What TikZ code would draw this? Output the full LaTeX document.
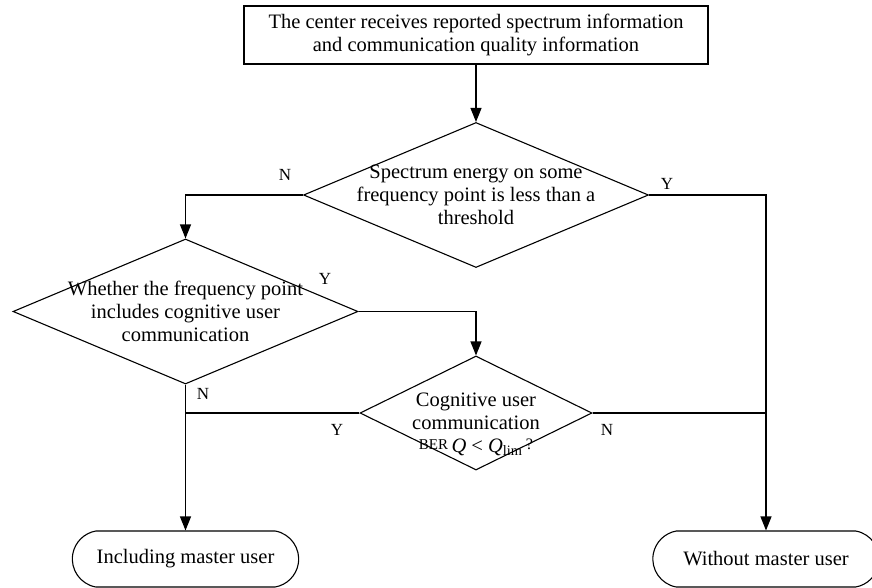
\documentclass[tikz,border=0pt]{standalone}
\usepackage{fontspec}
\setmainfont{Liberation Serif}
\usetikzlibrary{arrows.meta,shapes,positioning,calc}
\tikzset{
    block/.style={
        rectangle,
        draw=black,
        minimum width=464pt,
        minimum height=58pt,
        align=center,
        font=\fontsize{20.5}{23}\selectfont,
    },
    decision/.style={
        diamond,
        draw=black,
        inner sep=0pt,
    },
    dtext/.style={
        align=center,
        inner sep=0pt,
        font=\fontsize{20.5}{23}\selectfont,
    },
    term/.style={
        rounded rectangle,
        rounded rectangle arc length=160,
        draw=black,
        minimum width=233pt,
        minimum height=56pt,
        font=\fontsize{20.5}{23}\selectfont,
    },
    yn/.style={
        font=\fontsize{17}{17}\selectfont,
        inner sep=0pt,
    },
}
\begin{document}
\begin{tikzpicture}[x=1pt,y=-1pt,line width=1.1pt,>={Triangle[length=14pt,width=11pt]}]
	    \useasboundingbox (0,0) rectangle (872,588);
	    \node [block] (top) at (476,35) {The center receives reported spectrum information\\and communication quality information};
	    \node [decision,minimum width=345pt,minimum height=145pt] (d1) at (476,195) {};
	    \node [dtext] (d1t) at (d1) {Spectrum energy on some\\frequency point is less than a\\threshold};
	    \node [decision,minimum width=345pt,minimum height=145pt] (d2) at (185.5,311.5) {};
	    \node [dtext] (d2t) at (d2) {Whether the frequency point\\includes cognitive user\\communication};
	    \node [decision,minimum width=232pt,minimum height=114pt] (d3) at (476,413) {};
	    \node [dtext] (d3t) at (476,424) {Cognitive user\\communication\\{\fontsize{15}{15}\selectfont\raisebox{3pt}{BER}}\,\textit{Q} < \textit{Q}\textsubscript{lim}\,{\fontsize{16}{16}\selectfont\raisebox{3pt}{?}}};
	    \node [term] (user) at (185.5,559) {Including master user};
	    \node [term] (nouser) at (766,559) {Without master user};
	    % yes / no marks
	    \node [yn] (n1) at (285,175) {N};
	    \node [yn] (y1) at (667,184) {Y};
	    \node [yn] (y2) at (325,279) {Y};
	    \node [yn] (n2) at (203,394) {N};
	    \node [yn] (y3) at (337,430) {Y};
	    \node [yn] (n3) at (607,430) {N};
	    \draw [->] (top.south) -- (d1.north);
	    \draw [->] (d1.west) -| (d2.north);
	    \draw [->] (d1.east) -| (nouser.north);
	    \draw [->] (d2.east) -| (d3.north);
	    \draw [->] (d2.south) -- (user.north);
	    \draw (d3.west) -- (d3.west -| d2.south);
	    \draw (d3.east) -- (d3.east -| nouser.north);
	\end{tikzpicture}
\end{document}
